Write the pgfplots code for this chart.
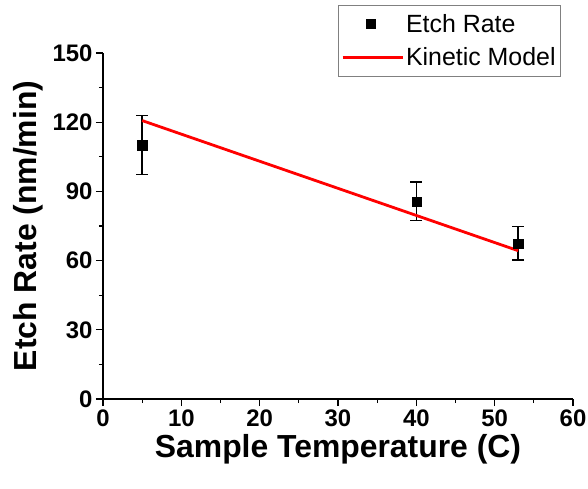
\documentclass[border=0pt]{standalone}
\usepackage{fontspec}
\setmainfont{Liberation Sans}
\usepackage{pgfplots}
\pgfplotsset{compat=1.18}
\begin{document}
\begin{tikzpicture}
\begin{axis}[
  at={(0,0)}, anchor=south west,
  scale only axis, width=470bp, height=346bp,
  xmin=0, xmax=60, ymin=0, ymax=150,
  xtick={0,10,...,60}, ytick={0,30,...,150},
  minor x tick num=1, minor y tick num=1,
  axis x line*=bottom, axis y line*=left,
  axis line style={line width=1.3bp, black},
  tick align=outside,
  major tick length=7bp, minor tick length=4bp,
  major tick style={line width=1.3bp, black},
  minor tick style={line width=1.3bp, black},
  /pgf/number format/assume math mode=true,
  tick label style={font=\fontsize{24}{27}\selectfont\bfseries},
  xlabel={Sample Temperature (C)},
  ylabel={Etch Rate (nm/min)},
  label style={font=\fontsize{32}{36}\selectfont\bfseries},
  xlabel style={yshift=-1bp},
  ylabel style={yshift=3bp},
  legend style={at={(0.5,1.139)}, anchor=north west, draw=gray, line width=0.6bp,
    font=\fontsize{25}{28}\selectfont, inner xsep=3bp, inner ysep=7bp,
    row sep=10bp, legend cell align=left},
  legend image code/.code={\draw[#1] (0bp,0bp) -- (60bp,0bp);},
]
\addplot[only marks, mark=square*, mark size=4.6bp, black,
  legend image code/.code={\draw[black, mark=square*, mark size=4.6bp] plot coordinates {(28bp,0bp)};},
  error bars/.cd, y dir=both, y explicit,
  error bar style={line width=1.4bp, black},
  error mark options={rotate=90, mark size=6bp, line width=1.4bp, black}]
  table[x=x, y=y, y error=e] {
  x y e
  5 110 12.8
  40 85.7 8.3
  53 67.5 7.3
  };
\addlegendentry{Etch Rate}
\addplot[red, line width=2.8bp, mark=none] coordinates {(5,120.7) (53,64.3)};
\addlegendentry{Kinetic Model}
\end{axis}
\pgfresetboundingbox
\path (-103bp,-90bp) rectangle (485bp,399bp);
\end{tikzpicture}
\end{document}
